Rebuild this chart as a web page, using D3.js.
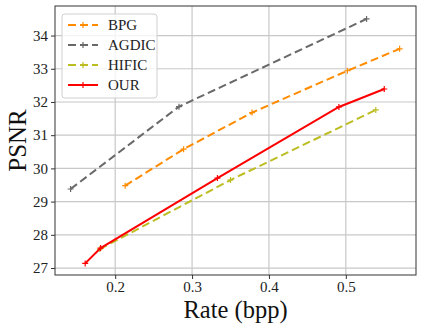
<!DOCTYPE html>
<html>
<head>
<meta charset="utf-8">
<script src="https://cdn.jsdelivr.net/npm/d3@7"></script>
<style>
  html, body { margin: 0; padding: 0; background: #fff; }
  svg { display: block; }
</style>
</head>
<body>
<div id="chart"></div>
<script>
// --- data ---
const seriesNames = ["BPG", "AGDIC", "HIFIC", "OUR"];
const bpgRate   = [0.213, 0.289, 0.378, 0.502, 0.570];
const bpgPsnr   = [29.48, 30.58, 31.68, 32.94, 33.60];
const agdicRate = [0.142, 0.283, 0.527];
const agdicPsnr = [29.38, 31.86, 34.50];
const hificRate = [0.180, 0.350, 0.539];
const hificPsnr = [27.57, 29.65, 31.76];
const ourRate   = [0.161, 0.181, 0.333, 0.491, 0.550];
const ourPsnr   = [27.14, 27.60, 29.71, 31.85, 32.39];
const xTicks = [0.2, 0.3, 0.4, 0.5];
const yTicks = [27, 28, 29, 30, 31, 32, 33, 34];

const series = [
  { name: seriesNames[0], rate: bpgRate,   psnr: bpgPsnr,   color: "#ff8c00", dash: "8,4" },
  { name: seriesNames[1], rate: agdicRate, psnr: agdicPsnr, color: "#696969", dash: "8,4" },
  { name: seriesNames[2], rate: hificRate, psnr: hificPsnr, color: "#bcbd22", dash: "8,4" },
  { name: seriesNames[3], rate: ourRate,   psnr: ourPsnr,   color: "#ff0000", dash: null }
];

// --- layout ---
const W = 423, H = 330;
const margin = { top: 6, right: 7, bottom: 55, left: 55 };
const serif = "'Liberation Serif', 'Times New Roman', serif";

const svg = d3.select("#chart").append("svg")
  .attr("width", W).attr("height", H);

const x = d3.scaleLinear().domain([0.1217, 0.5913]).range([margin.left, W - margin.right]);
const y = d3.scaleLinear().domain([26.79, 34.89]).range([H - margin.bottom, margin.top]);

// grid
svg.append("g").selectAll("line.gx")
  .data(xTicks).enter().append("line")
  .attr("x1", d => x(d)).attr("x2", d => x(d))
  .attr("y1", margin.top).attr("y2", H - margin.bottom)
  .attr("stroke", "#c8c8c8").attr("stroke-width", 1.2);

svg.append("g").selectAll("line.gy")
  .data(yTicks).enter().append("line")
  .attr("y1", d => y(d)).attr("y2", d => y(d))
  .attr("x1", margin.left).attr("x2", W - margin.right)
  .attr("stroke", "#c8c8c8").attr("stroke-width", 1.2);

// axes
const xAxis = svg.append("g")
  .attr("transform", `translate(0,${H - margin.bottom})`)
  .call(d3.axisBottom(x).tickValues(xTicks).tickFormat(d3.format(".1f")).tickSize(4).tickPadding(2));
const yAxis = svg.append("g")
  .attr("transform", `translate(${margin.left},0)`)
  .call(d3.axisLeft(y).tickValues(yTicks).tickFormat(d3.format("d")).tickSize(4).tickPadding(3));

[xAxis, yAxis].forEach(a => {
  a.select(".domain").remove();
  a.selectAll(".tick line").attr("stroke", "#333");
  a.selectAll(".tick text")
    .style("font-family", serif)
    .style("font-size", "15px")
    .attr("fill", "#222");
});

// frame
svg.append("rect")
  .attr("x", margin.left).attr("y", margin.top)
  .attr("width", W - margin.left - margin.right)
  .attr("height", H - margin.top - margin.bottom)
  .attr("fill", "none").attr("stroke", "#333").attr("stroke-width", 1);

// lines
const line = d3.line().x(d => x(d[0])).y(d => y(d[1]));

series.forEach(s => {
  const pts = s.rate.map((r, i) => [r, s.psnr[i]]);
  svg.append("path")
    .datum(pts)
    .attr("d", line)
    .attr("fill", "none")
    .attr("stroke", s.color)
    .attr("stroke-width", 2)
    .attr("stroke-dasharray", s.dash);

  svg.append("g").selectAll("path")
    .data(pts).enter().append("path")
    .attr("d", "M-3,0H3M0,-3V3")
    .attr("transform", d => `translate(${x(d[0])},${y(d[1])})`)
    .attr("stroke", s.color).attr("stroke-width", 1.2);
});

// axis labels
svg.append("text")
  .attr("x", (margin.left + W - margin.right) / 2)
  .attr("y", 318)
  .attr("text-anchor", "middle")
  .style("font-family", serif).style("font-size", "24.5px")
  .attr("fill", "#111")
  .text("Rate (bpp)");

svg.append("text")
  .attr("transform", `translate(26,${(margin.top + H - margin.bottom) / 2}) rotate(-90)`)
  .attr("text-anchor", "middle")
  .style("font-family", serif).style("font-size", "25px")
  .attr("fill", "#111")
  .text("PSNR");

// legend
const legend = svg.append("g").attr("transform", "translate(62,14)");
legend.append("rect")
  .attr("width", 95).attr("height", 84).attr("rx", 3)
  .attr("fill", "#fff").attr("fill-opacity", 0.8)
  .attr("stroke", "#d0d0d0");

const items = legend.selectAll("g.item")
  .data(series).enter().append("g")
  .attr("class", "item")
  .attr("transform", (d, i) => `translate(0,${11 + i * 20})`);

items.append("line")
  .attr("x1", 6).attr("x2", 36)
  .attr("stroke", d => d.color).attr("stroke-width", 2)
  .attr("stroke-dasharray", d => d.dash);
items.append("path")
  .attr("d", "M-3,0H3M0,-3V3")
  .attr("transform", "translate(21,0)")
  .attr("stroke", d => d.color).attr("stroke-width", 1.2);
items.append("text")
  .attr("x", 46).attr("y", 5)
  .style("font-family", serif).style("font-size", "15px")
  .attr("fill", "#222")
  .text(d => d.name);
</script>
</body>
</html>
